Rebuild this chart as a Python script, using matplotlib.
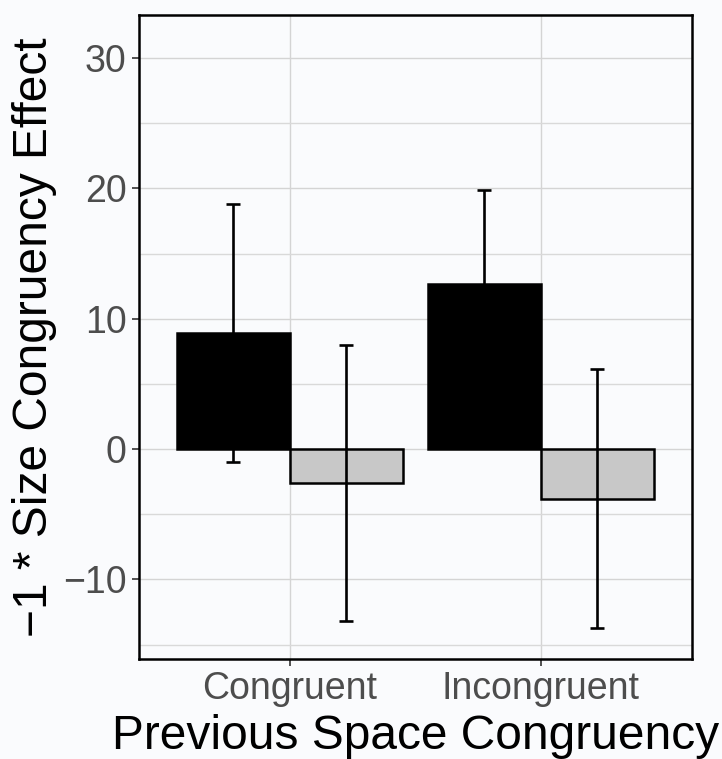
import numpy as np
import matplotlib
matplotlib.use('Agg')
import matplotlib.pyplot as plt
from matplotlib.ticker import MultipleLocator

plt.rcParams['font.family'] = ['Liberation Sans', 'DejaVu Sans']

# Data
categories = ['Congruent', 'Incongruent']
black_means = [8.9, 12.7]
black_errs = [9.87, 7.2]
grey_means = [-2.6, -3.8]
grey_errs = [10.6, 9.95]

bg = '#fafbfd'
fig = plt.figure(figsize=(7.22, 7.59), dpi=100, facecolor=bg)
ax = fig.add_axes([0.1925, 0.1318, 0.7655, 0.8485], facecolor=bg)

x = np.arange(1, len(categories) + 1)
w = 0.45

# Bars
ax.bar(x - w / 2, black_means, width=w, color='black', edgecolor='black',
       linewidth=1.8, zorder=3)
ax.bar(x + w / 2, grey_means, width=w, color='#c8c8c8', edgecolor='black',
       linewidth=1.8, zorder=3)

# Error bars
ax.errorbar(x - w / 2, black_means, yerr=black_errs, fmt='none', ecolor='black',
            elinewidth=1.9, capsize=5, capthick=1.9, zorder=4)
ax.errorbar(x + w / 2, grey_means, yerr=grey_errs, fmt='none', ecolor='black',
            elinewidth=1.9, capsize=5, capthick=1.9, zorder=4)

ax.set_xlim(0.4, 2.6)
ax.set_ylim(-16.1, 33.3)
ax.set_xticks(x)
ax.set_xticklabels(categories)
ax.yaxis.set_major_locator(MultipleLocator(10))
ax.yaxis.set_minor_locator(MultipleLocator(5))

# Grid
ax.grid(True, which='major', color='#d4d4d4', linewidth=1.0, zorder=0)
ax.grid(True, which='minor', axis='y', color='#d9d9d9', linewidth=1.0, zorder=0)
ax.set_axisbelow(True)

for s in ax.spines.values():
    s.set_color('black')
    s.set_linewidth(1.8)

ax.tick_params(axis='both', which='major', labelsize=27, labelcolor='#4d4d4d',
               color='#333333', length=5, width=1.2, pad=4)
ax.tick_params(axis='y', which='minor', length=0)

ax.set_xlabel('Previous Space Congruency', fontsize=34.5, labelpad=5)
ax.set_ylabel('\u22121 * Size Congruency Effect', fontsize=34.5, labelpad=4)

fig.savefig('out.png', dpi=100, facecolor=bg)
